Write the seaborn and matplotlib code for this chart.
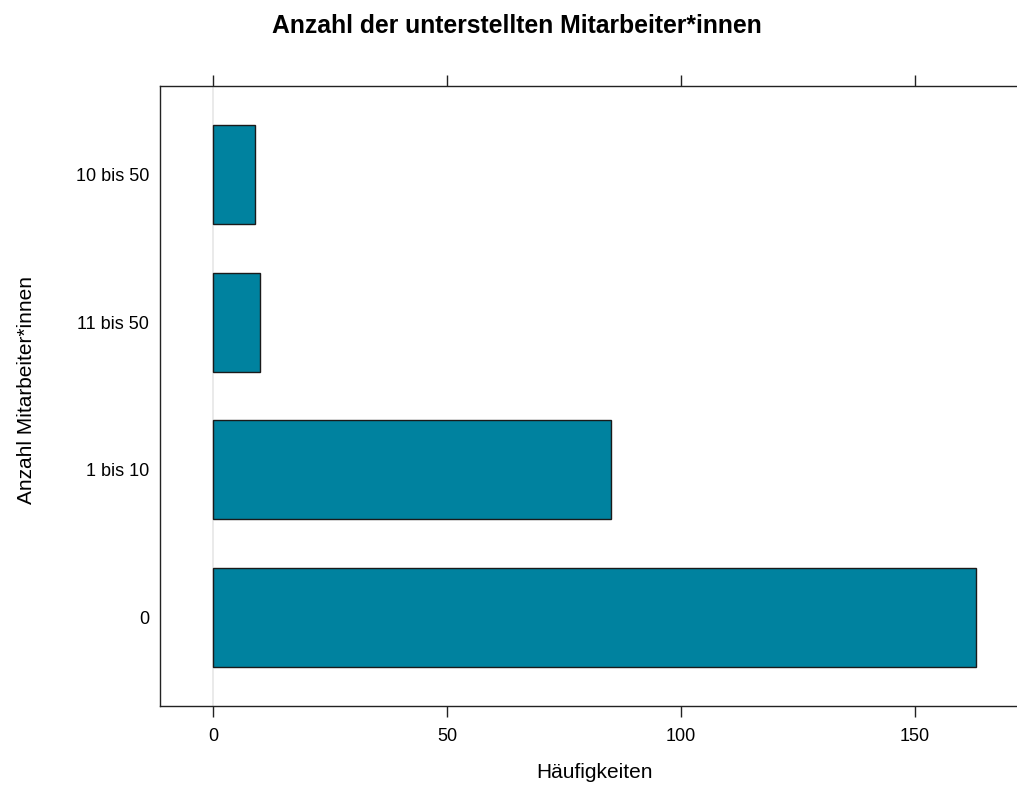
import matplotlib
matplotlib.use("Agg")
import matplotlib.pyplot as plt
import seaborn as sns
import pandas as pd

categories = ["10 bis 50", "11 bis 50", "1 bis 10", "0"]
counts = [9, 10, 85, 163]
x_ticks = [0, 50, 100, 150]

title = "Anzahl der unterstellten Mitarbeiter*innen"
xlabel = "Häufigkeiten"
ylabel = "Anzahl Mitarbeiter*innen"

df = pd.DataFrame({"Kategorie": categories, "Anzahl": counts})

sns.set_theme(style="white")
plt.rcParams["font.family"] = ["Liberation Sans", "DejaVu Sans"]

W, H = 1017, 787
fig = plt.figure(figsize=(W / 100, H / 100), dpi=100)
left, right, top, bottom = 160, 1029, 86, 706
ax = fig.add_axes([left / W, 1 - bottom / H, (right - left) / W, (bottom - top) / H])

ax.axvline(0, color="#e6e6e6", lw=1.2, zorder=0)
sns.barplot(data=df, x="Anzahl", y="Kategorie", order=categories, orient="h",
            color="#00829F", saturation=1, width=0.67, edgecolor="#1a1a1a",
            linewidth=1.0, ax=ax, zorder=2)

ax.set_xlim(-11.41, 174.41)
ax.set_ylim(3.6, -0.6)
ax.set_xticks(x_ticks)
ax.set_xticklabels([str(v) for v in x_ticks])
ax.tick_params(axis="x", which="both", direction="out", length=8, width=1,
               color="#222222", top=True, bottom=True, labeltop=False,
               labelbottom=True, labelsize=13, pad=8, labelcolor="black")
ax.tick_params(axis="y", length=0, pad=8, labelsize=13, labelcolor="black")

for s in ["left", "top", "bottom", "right"]:
    ax.spines[s].set_color("#222222")
    ax.spines[s].set_linewidth(1.0)

ax.set_xlabel(xlabel, fontsize=15, labelpad=13, color="black")
ax.set_ylabel("")
fig.text(27 / W, 1 - 390 / H, ylabel, rotation=90, ha="center", va="center",
         fontsize=15, color="black")
fig.text(517 / W, 1 - 26 / H, title, ha="center", va="center", fontsize=17.8,
         fontweight="bold", color="black")

fig.savefig("out.png", dpi=100)
